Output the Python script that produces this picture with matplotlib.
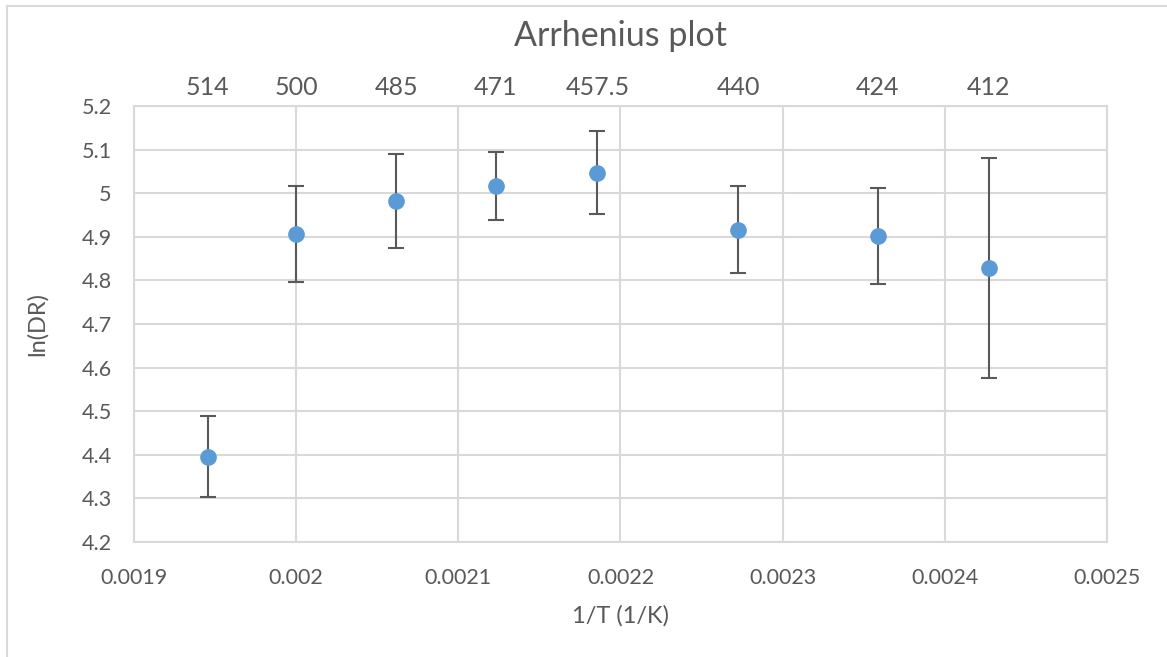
import numpy as np
import matplotlib
matplotlib.use("Agg")
import matplotlib.pyplot as plt
from matplotlib.lines import Line2D

plt.rcParams['font.family'] = ['Lato', 'DejaVu Sans']

# temperatures (K) shown on top, ln(DR) values and their error bars
temps = [514, 500, 485, 471, 457.5, 440, 424, 412]
temp_labels = ['514', '500', '485', '471', '457.5', '440', '424', '412']
ln_dr = [4.396, 4.906, 4.982, 5.016, 5.047, 4.916, 4.902, 4.828]
ln_dr_err = [0.092, 0.110, 0.108, 0.078, 0.095, 0.100, 0.110, 0.252]

inv_t = [1.0 / t for t in temps]

grey_txt = '#595959'
grid_col = '#D9D9D9'

fig = plt.figure(figsize=(11.67, 6.57), dpi=100)
ax = fig.add_axes([0.1148, 0.175, 0.8338, 0.6637])

ax.errorbar(inv_t, ln_dr, yerr=ln_dr_err, fmt='o', color='#5B9BD5',
            markersize=11, ecolor=grey_txt, elinewidth=1.5, capsize=6,
            capthick=1.5, zorder=3)

ax.set_xlim(0.0019, 0.0025)
ax.set_ylim(4.2, 5.2)
ax.set_xticks(np.arange(0.0019, 0.00251, 0.0001))
ax.set_xticklabels(['0.0019', '0.002', '0.0021', '0.0022', '0.0023', '0.0024', '0.0025'])
ax.set_yticks(np.arange(4.2, 5.21, 0.1))
ax.set_yticklabels(['4.2', '4.3', '4.4', '4.5', '4.6', '4.7', '4.8', '4.9', '5', '5.1', '5.2'])
ax.grid(True, color=grid_col, linewidth=1.5)
ax.set_axisbelow(True)
ax.tick_params(length=0, labelsize=15.5, labelcolor=grey_txt)
ax.tick_params(axis='x', pad=19)
ax.tick_params(axis='y', pad=16)
for s in ax.spines.values():
    s.set_color(grid_col)
    s.set_linewidth(1.5)

ax.set_xlabel('1/T (1/K)', fontsize=17, color=grey_txt, labelpad=12)
ax.set_ylabel('ln(DR)', fontsize=17, color=grey_txt, labelpad=24)

# temperature labels on top
top = ax.twiny()
top.set_xlim(ax.get_xlim())
top.set_xticks(inv_t)
top.set_xticklabels(temp_labels)
top.tick_params(length=0, labelsize=18, labelcolor=grey_txt, pad=5)
for s in top.spines.values():
    s.set_visible(False)

fig.text(0.532, 0.945, 'Arrhenius plot', ha='center', va='center',
         fontsize=24.5, color=grey_txt)

# chart area border (left and top edges visible)
fig.add_artist(Line2D([0.006, 0.006], [0.0, 0.991], color=grid_col, lw=1.5,
                      transform=fig.transFigure))
fig.add_artist(Line2D([0.006, 1.0], [0.991, 0.991], color=grid_col, lw=1.5,
                      transform=fig.transFigure))

fig.savefig('out.png', dpi=100)
